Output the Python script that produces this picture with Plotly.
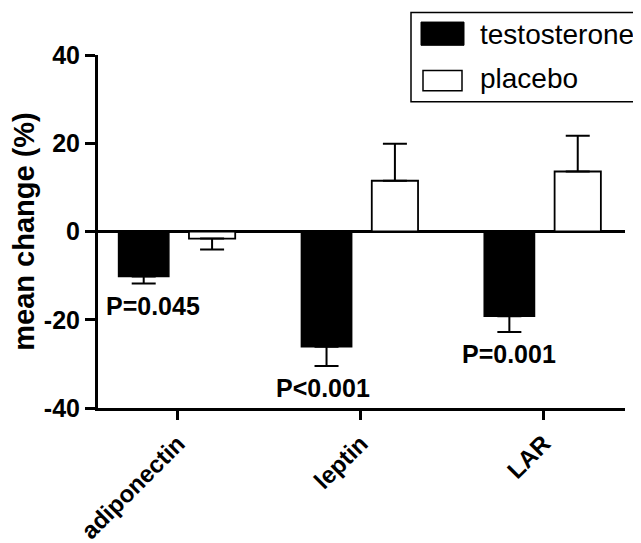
import plotly.graph_objects as go

# ---- data ----
categories = ["adiponectin", "leptin", "LAR"]
series_names = ["testosterone", "placebo"]
testosterone_mean = [-10.2, -26.1, -19.2]
testosterone_err = [1.6, 4.4, 3.6]
placebo_mean = [-1.6, 11.5, 13.6]
placebo_err = [2.5, 8.4, 8.1]
p_labels = ["P=0.045", "P<0.001", "P=0.001"]
y_tick_vals = [-40, -20, 0, 20, 40]
y_tick_text = ["-40", "-20", "0", "20", "40"]

FONT = "Liberation Sans, Arial, Helvetica, sans-serif"

def one_sided(vals, errs):
    plus = [e if v > 0 else 0 for v, e in zip(vals, errs)]
    minus = [e if v < 0 else 0 for v, e in zip(vals, errs)]
    return plus, minus

fig = go.Figure()

tp, tm = one_sided(testosterone_mean, testosterone_err)
fig.add_trace(go.Bar(
    x=categories, y=testosterone_mean, name=series_names[0],
    offset=-0.325, width=0.275,
    marker=dict(color="black", line=dict(color="black", width=1.5)),
    error_y=dict(type="data", symmetric=False, array=tp, arrayminus=tm,
                 color="black", thickness=2, width=12),
    showlegend=False,
))

pp, pm = one_sided(placebo_mean, placebo_err)
fig.add_trace(go.Bar(
    x=categories, y=placebo_mean, name=series_names[1],
    offset=0.06, width=0.253,
    marker=dict(color="white", line=dict(color="black", width=1.8)),
    error_y=dict(type="data", symmetric=False, array=pp, arrayminus=pm,
                 color="black", thickness=2, width=12),
    showlegend=False,
))

# P-value annotations below testosterone bars
label_dx = [-0.137, -0.206, -0.19]
for i, (lab, v, e) in enumerate(zip(p_labels, testosterone_mean, testosterone_err)):
    fig.add_annotation(x=i + label_dx[i], y=v - e - 5, text=lab, showarrow=False,
                       xanchor="center", yanchor="middle",
                       font=dict(family=FONT, size=25, color="black", weight="bold"))

# Manual legend (large swatches like the original); positions in page pixels
L, R, T, B = 98, 625, 55.4, 407.9
def px(x):
    return (x - L) / (R - L)
def py(y):
    return (B - y) / (B - T)

fig.add_shape(type="rect", xref="paper", yref="paper",
              x0=px(411), x1=px(641), y0=py(102), y1=py(13),
              line=dict(color="black", width=1.5), fillcolor="white", layer="above")
fig.add_shape(type="rect", xref="paper", yref="paper",
              x0=px(421), x1=px(464), y0=py(45.7), y1=py(22.5),
              line=dict(color="black", width=1), fillcolor="black", layer="above")
fig.add_shape(type="rect", xref="paper", yref="paper",
              x0=px(423), x1=px(462), y0=py(91), y1=py(71),
              line=dict(color="black", width=1.5), fillcolor="white", layer="above")
fig.add_annotation(xref="paper", yref="paper", x=px(478), y=py(35), text=series_names[0],
                   showarrow=False, xanchor="left", yanchor="middle",
                   font=dict(family=FONT, size=28, color="black"))
fig.add_annotation(xref="paper", yref="paper", x=px(478), y=py(79), text=series_names[1],
                   showarrow=False, xanchor="left", yanchor="middle",
                   font=dict(family=FONT, size=28, color="black"))

# page has an 8px body margin, so the figure is 8px smaller on each axis
fig.update_layout(
    width=633, height=535,
    margin=dict(l=90, r=16, t=47.4, b=135.1, pad=0),
    paper_bgcolor="white", plot_bgcolor="white",
    barmode="overlay",
    font=dict(family=FONT, color="black"),
    xaxis=dict(
        type="category", range=[-0.4375, 2.445], automargin=False,
        showline=True, linewidth=3, linecolor="black",
        ticks="outside", ticklen=9, tickwidth=3, tickcolor="black",
        tickangle=-45, showgrid=False, zeroline=False,
        tickfont=dict(family=FONT, size=24, color="black", weight="bold"),
    ),
    yaxis=dict(
        range=[-40, 40], tickvals=y_tick_vals, ticktext=y_tick_text, automargin=False,
        showline=True, linewidth=3, linecolor="black",
        ticks="outside", ticklen=10, tickwidth=3, tickcolor="black",
        showgrid=False, zeroline=True, zerolinewidth=3, zerolinecolor="black",
        tickfont=dict(family=FONT, size=25, color="black", weight="bold"),
        title=dict(text="mean change (%)", standoff=8,
                   font=dict(family=FONT, size=29, color="black", weight="bold")),
    ),
)

fig.write_html("out.html")
